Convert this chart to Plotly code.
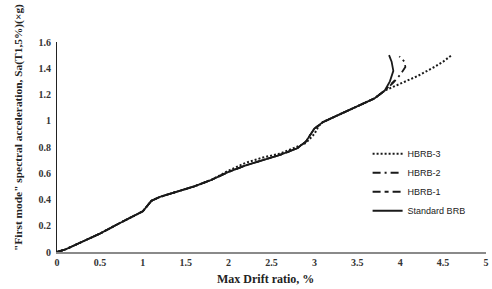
import plotly.graph_objects as go

# Data
std_x = [0, 0.1, 0.3, 0.5, 0.7, 0.9, 1.0, 1.05, 1.1, 1.2, 1.4, 1.6, 1.8, 2.0, 2.2, 2.4, 2.6, 2.8, 2.9, 3.0, 3.1, 3.3, 3.5, 3.7, 3.82, 3.88, 3.92, 3.9, 3.87]
std_y = [0, 0.02, 0.08, 0.14, 0.21, 0.28, 0.31, 0.35, 0.39, 0.42, 0.46, 0.50, 0.55, 0.61, 0.66, 0.70, 0.74, 0.79, 0.84, 0.94, 0.99, 1.05, 1.11, 1.17, 1.23, 1.30, 1.38, 1.45, 1.50]

h1_x = [0, 0.1, 0.3, 0.5, 0.7, 0.9, 1.0, 1.05, 1.1, 1.2, 1.4, 1.6, 1.8, 2.0, 2.2, 2.4, 2.6, 2.8, 2.9, 3.0, 3.1, 3.3, 3.5, 3.7, 3.82, 3.88, 3.94]
h1_y = [0, 0.02, 0.08, 0.14, 0.21, 0.28, 0.31, 0.35, 0.39, 0.42, 0.46, 0.50, 0.55, 0.61, 0.66, 0.70, 0.74, 0.79, 0.84, 0.94, 0.99, 1.05, 1.11, 1.17, 1.23, 1.27, 1.31]

h2_x = [0, 0.1, 0.3, 0.5, 0.7, 0.9, 1.0, 1.05, 1.1, 1.2, 1.4, 1.6, 1.8, 2.0, 2.2, 2.4, 2.6, 2.8, 2.9, 3.0, 3.1, 3.3, 3.5, 3.7, 3.82, 3.92, 4.0, 4.06, 4.05, 3.99]
h2_y = [0, 0.02, 0.08, 0.14, 0.21, 0.28, 0.31, 0.35, 0.39, 0.42, 0.46, 0.50, 0.55, 0.61, 0.66, 0.70, 0.74, 0.79, 0.84, 0.94, 0.99, 1.05, 1.11, 1.17, 1.23, 1.29, 1.35, 1.41, 1.45, 1.49]

h3_x = [0, 0.1, 0.3, 0.5, 0.7, 0.9, 1.0, 1.05, 1.1, 1.2, 1.4, 1.6, 1.8, 2.0, 2.2, 2.4, 2.6, 2.8, 2.9, 3.0, 3.05, 3.1, 3.3, 3.5, 3.7, 3.82, 4.0, 4.2, 4.4, 4.5, 4.6]
h3_y = [0, 0.02, 0.08, 0.14, 0.21, 0.28, 0.31, 0.35, 0.39, 0.42, 0.46, 0.50, 0.55, 0.62, 0.68, 0.72, 0.75, 0.80, 0.83, 0.90, 0.96, 0.99, 1.05, 1.11, 1.17, 1.23, 1.28, 1.34, 1.41, 1.45, 1.50]

x_ticks = [0, 0.5, 1, 1.5, 2, 2.5, 3, 3.5, 4, 4.5, 5]
y_ticks = [0, 0.2, 0.4, 0.6, 0.8, 1, 1.2, 1.4, 1.6]

x_title = "<b>Max Drift ratio, %</b>"
y_title = "<b>\"First mode\" spectral acceleration, Sa(T1,5%)(×g)</b>"

fig = go.Figure()
fig.add_trace(go.Scatter(x=std_x, y=std_y, mode="lines", name="Standard BRB", legendgroup="a",
                         line=dict(color="#1a1a1a", width=1.8)))
fig.add_trace(go.Scatter(x=h1_x, y=h1_y, mode="lines", name="HBRB-1", legendgroup="b",
                         line=dict(color="#1a1a1a", width=1.8, dash="8px,4px,4px,4px")))
fig.add_trace(go.Scatter(x=h2_x, y=h2_y, mode="lines", name="HBRB-2", legendgroup="c",
                         line=dict(color="#1a1a1a", width=1.8, dash="8px,4px,2px,4px")))
fig.add_trace(go.Scatter(x=h3_x, y=h3_y, mode="lines", name="HBRB-3", legendgroup="d",
                         line=dict(color="#1a1a1a", width=2, dash="2px,2px")))

serif = "Liberation Serif"
fig.update_layout(
    width=492, height=289,
    margin=dict(l=57, r=6, t=42, b=37),
    plot_bgcolor="white", paper_bgcolor="white",
    showlegend=True,
    legend=dict(x=0.724, y=0.537, xanchor="left", yanchor="top", traceorder="reversed",
                font=dict(family="Liberation Sans", size=9, color="#222"),
                bgcolor="rgba(0,0,0,0)", tracegroupgap=4),
    xaxis=dict(range=[0, 5], tickvals=x_ticks, ticktext=[f"<b>{v:g}</b>" for v in x_ticks],
               showgrid=False, zeroline=False, showline=True, linecolor="#8a8a8a", linewidth=2,
               ticks="", automargin=False, ticklabeloverflow="allow",
               tickfont=dict(family=serif, size=10, color="#333")),
    yaxis=dict(range=[0, 1.6], tickvals=y_ticks, ticktext=[f"<b>{v:g}</b>" for v in y_ticks],
               showgrid=False, zeroline=False, showline=True, linecolor="#222", linewidth=1,
               ticks="", automargin=False, ticklabelstandoff=3, ticklabeloverflow="allow",
               tickfont=dict(family=serif, size=10, color="#333")),
    annotations=[
        dict(text=x_title, xref="paper", yref="paper", x=0.485, y=-0.13, showarrow=False,
             xanchor="center", yanchor="middle", font=dict(family=serif, size=12, color="#222")),
        dict(text=y_title, xref="paper", yref="paper", x=-0.091, y=0.595, showarrow=False,
             textangle=-90, xanchor="center", yanchor="middle", font=dict(family=serif, size=11.4, color="#222")),
    ],
)
fig.write_html("out.html", config={"displayModeBar": False},
               post_script="document.body.style.margin='0';document.body.style.overflow='hidden';")
